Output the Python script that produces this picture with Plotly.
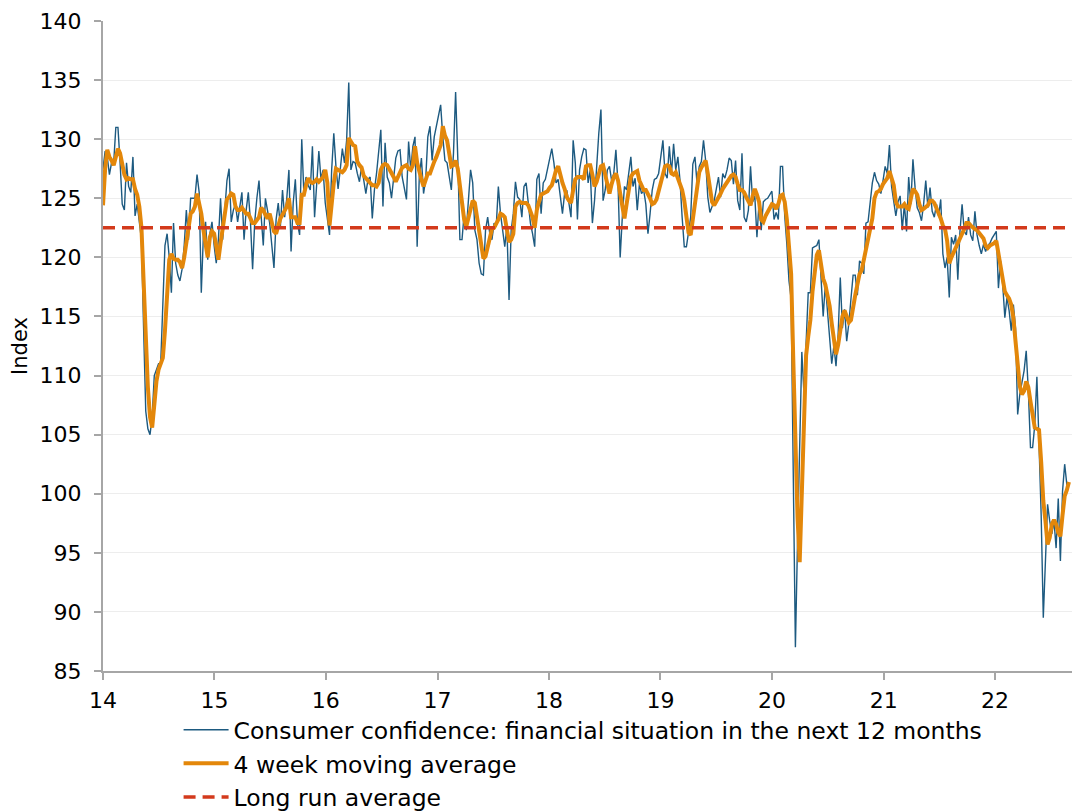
import pandas as pd
import plotly.graph_objects as go

# Weekly consumer confidence index, financial situation in the next 12 months
conf_2014 = [127.5, 129, 128.5, 127, 128, 128, 131, 131, 128, 124.5,
             124, 128, 126, 125.5, 128.5, 123.5, 124.5, 123, 121.5, 114,
             107, 105.5, 105, 106.5, 110, 110.5, 111, 111, 116, 121,
             122, 120, 117, 122.9, 119.5, 118.5, 118, 119, 121, 124,
             121.5, 125, 125, 125, 127, 125.5, 117, 122, 123, 119.8,
             122, 123]
conf_2015 = [121, 119.5, 121.5, 125, 121.5, 124, 126.5, 127.5, 123, 124,
             124.5, 123, 124.5, 125.5, 121.5, 124, 125.5, 123, 119, 123,
             125, 126.5, 123.5, 121, 125, 124, 122.9, 121, 119.1, 123.2,
             124.6, 122.6, 125.7, 123.4, 125, 127.4, 120.5, 124.6, 126.6, 122.9,
             121.9, 130, 125.4, 126.8, 126.1, 125.7, 129.4, 123.4, 126.6, 129,
             126.6, 127.4]
conf_2016 = [124.6, 123.2, 121.9, 127.4, 130.5, 127.7, 125.8, 127.4, 129.2, 128,
             129.9, 134.8, 127.4, 128.1, 128, 127.1, 126.4, 127.7, 126.4, 125.4,
             126.6, 126.8, 123.3, 125.7, 127.1, 129.1, 130.8, 124.3, 129.7, 126.8,
             126.3, 125, 126.6, 128.4, 129, 129.1, 126.8, 125.7, 124.9, 129.8,
             127.4, 129.4, 130.2, 120.9, 126.8, 128.4, 125.4, 126.6, 130.2, 131.1,
             128.2, 130.2]
conf_2017 = [131.1, 131.9, 132.9, 130.2, 128.2, 128, 126.8, 125.7, 128.8, 134,
             128.5, 121.5, 121.5, 123.7, 122.3, 125.1, 127.4, 126.3, 122.3, 121.5,
             119.5, 118.6, 118.5, 122.3, 123.4, 122, 121.5, 122.9, 122.6, 126,
             123.7, 122.3, 120.9, 122.6, 116.4, 122.3, 123.7, 126.4, 125.1, 124.9,
             123.4, 126, 126.3, 124.6, 122.9, 122, 120.9, 126.6, 127.1, 123.7,
             126.3, 126.6]
conf_2018 = [127.4, 128.4, 129.2, 128, 126.3, 126.6, 124.9, 123.7, 125.4, 125.7,
             124.6, 123.4, 129.9, 128, 123.2, 127.4, 128.5, 129.2, 129.1, 126.3,
             127.4, 122.9, 124.8, 127.9, 130.5, 132.5, 124.8, 125.7, 127.4, 127.7,
             126.5, 127.1, 129.1, 126.2, 120, 123.4, 126, 125.7, 127.1, 128.5,
             126, 126.7, 124, 126.2, 125.4, 125.7, 124.5, 122, 123.7, 125.7,
             126.6, 126.7]
conf_2019 = [127.1, 128.4, 129.9, 127.1, 126.7, 129.4, 127.1, 129.6, 127.4, 128.5,
             126.5, 123.4, 120.9, 120.9, 122, 123.4, 127.9, 128.5, 126.2, 127.7,
             128.1, 129.9, 128.2, 125.1, 123.8, 124.3, 124.8, 125.8, 126.8, 125.1,
             127.1, 126.7, 127.4, 128.4, 128.2, 126.2, 128.2, 124.8, 124, 128.8,
             123.4, 123, 124, 127.7, 124.7, 125.2, 121.7, 124.7, 122.3, 124.7,
             124.9, 125]
conf_2020 = [125.3, 125.6, 123.2, 123.8, 123.2, 127.7, 127.7, 123.5, 121.1, 118,
             116.5, 100, 87, 96, 103.5, 112, 108.5, 113.5, 117, 117,
             120.8, 120.9, 121, 121.5, 118.6, 115, 117.7, 115.3, 113, 111,
             112.5, 110.8, 113.5, 118.3, 114, 115.6, 112.9, 114.4, 116.5, 118.5,
             118.5, 116.8, 119.7, 119.5, 118.6, 122.9, 123, 124.7, 126.3, 127.2,
             126.5, 126.2]
conf_2021 = [125.4, 126.5, 127.7, 127.1, 129.5, 126, 124.5, 123.5, 124.7, 125.2,
             122.3, 124.5, 122.2, 126.8, 124.5, 128.3, 125.9, 124.2, 123.8, 123.1,
             124.5, 126.5, 124.2, 125.9, 123.9, 123.4, 124.5, 123.5, 124.9, 120.3,
             119.1, 120, 116.6, 121.7, 121.1, 121.9, 118.1, 122.2, 124.5, 122.2,
             121.9, 123.4, 121.9, 121.4, 123.9, 121.9, 121, 120.3, 121.1, 120.5,
             121, 121.2]
conf_2022 = [121.6, 121.9, 122.2, 117.4, 119.7, 117.7, 114.9, 116.6, 115.5, 113.8,
             116, 114, 106.7, 108.4, 109.4, 110.4, 112.1, 108.7, 103.9, 103.9,
             105.8, 109.9, 104.2, 98.2, 89.5, 94.8, 99.1, 97.7, 96.6, 97.7,
             95.4, 99.6, 94.3, 100.2, 102.5, 100.8, 100.8]

# 4 week moving average
ma_2014 = [124.4, 127.5, 129.1, 128.5, 128.2, 127.8, 128.5, 129.2, 128.8, 128,
           127, 126.6, 126.7, 126.6, 126.6, 125.8, 125.3, 124.3, 122.5, 118,
           113, 109, 106.5, 105.6, 107.5, 109.5, 110.5, 111, 111.5, 113.8,
           117.5, 119.8, 120.3, 119.9, 119.8, 119.8, 119.6, 119.1, 120, 121.2,
           122.3, 123.7, 123.9, 124.3, 125.4, 124.6, 123.7, 122.3, 120.9, 120,
           121.7, 122.2]
ma_2015 = [122, 120.9, 119.8, 121.2, 122.3, 123.7, 124.9, 125.1, 125.4, 125.3,
           124.3, 124, 124, 124.2, 124, 123.7, 123.7, 123.2, 122.9, 122.9,
           123.2, 123.4, 124.2, 124, 123.6, 123.3, 123.7, 122.9, 122.2, 122,
           122.6, 123.3, 123.6, 124, 124.3, 125, 123.4, 123.4, 123.4, 122.9,
           122.9, 125.3, 125.3, 126.1, 126.7, 126.4, 126.3, 126.4, 126.6, 126.4,
           126.6, 126.8]
ma_2016 = [127.4, 126.3, 122.7, 124.7, 126.3, 127.5, 127.4, 127.3, 127.2, 127.4,
           127.8, 130.1, 129.7, 129.5, 129.4, 128.1, 127.8, 127.6, 126.9, 126.7,
           126.6, 126.3, 126.1, 126.1, 126, 126.3, 127.4, 127.8, 127.9, 127.8,
           127.4, 127.2, 126.8, 126.4, 126.8, 127.1, 127.6, 127.7, 127.8, 127.5,
           127.4, 127.8, 129.4, 128, 127.1, 126.6, 126, 126.7, 127.1, 127.1,
           127.7, 128.1]
ma_2017 = [128.5, 129, 129.5, 131.1, 130.3, 129.9, 128.7, 127.7, 127.8, 128.2,
           127.5, 125.8, 124.3, 123.2, 122.6, 123.4, 124.3, 124.8, 124.6, 123.4,
           122, 120.6, 119.9, 120.1, 121, 121.9, 122.4, 122.5, 122.8, 123.2,
           123.7, 123.6, 123.4, 122.3, 121.3, 121.5, 122, 124.3, 124.6, 124.7,
           124.6, 124.6, 124.6, 124.4, 124, 123.4, 122.5, 124, 124.7, 125.3,
           125.4, 125.5]
ma_2018 = [125.6, 125.9, 126.1, 126.7, 127.4, 127.7, 126.8, 126.3, 125.8, 125.1,
           124.8, 124.6, 125.7, 126.6, 126.8, 126.8, 126.8, 126.6, 127.7, 127.8,
           127.8, 127, 126, 126.4, 127, 127.7, 127.8, 127.1, 126.1, 125.4,
           126.2, 126.8, 127.1, 126.5, 125.4, 124.3, 123.3, 124.5, 125.8, 126.8,
           127.1, 127.2, 127.3, 126.5, 126, 125.7, 125.7, 125.4, 125, 124.5,
           124.6, 124.9]
ma_2019 = [125.6, 126.1, 126.8, 127.7, 127.8, 127.7, 127.1, 127, 127.2, 126.7,
           126.2, 125.7, 124.8, 123.4, 122.1, 121.9, 123.3, 124.7, 126.4, 127.2,
           127.6, 128, 128.2, 127.1, 126, 124.7, 124.4, 124.7, 125.1, 125.4,
           125.8, 126.1, 126.4, 126.7, 126.9, 127, 126.8, 126.2, 125.7, 125.7,
           125.5, 125.1, 124.8, 124.4, 125.2, 125.8, 125.3, 124.7, 123.2, 123,
           123.5, 123.9]
ma_2020 = [124.2, 124.5, 124.4, 124.1, 124.5, 125.2, 125.3, 124.7, 123.2, 121.1,
           118.6, 111.4, 104.1, 98, 94.2, 100.5, 107.1, 111.7, 113.3, 114.7,
           117.1, 118.8, 120.2, 120.6, 119.2, 118.2, 117.7, 116.7, 115.9, 114.4,
           113.2, 111.8, 112.6, 113.6, 115, 115.5, 115, 114.5, 114.7, 115.9,
           116.8, 117.7, 118.6, 118.9, 119.8, 120.9, 121.5, 122.3, 123.3, 125,
           125.5, 125.6]
ma_2021 = [125.8, 126.2, 126.4, 126.7, 127.3, 126.8, 126.1, 124.7, 124.3, 124.3,
           124.3, 124.5, 124.2, 124.1, 124.9, 125.8, 125.6, 125.3, 124.5, 124,
           124.1, 124.3, 124.4, 124.8, 124.8, 124.6, 124.2, 123.9, 123.3, 122.7,
           122.4, 121.4, 119.5, 120, 120.4, 120.7, 121.2, 121.4, 121.9, 122.4,
           122.9, 122.9, 122.7, 122.5, 122.4, 122.3, 122.1, 121.9, 121.6, 121,
           120.8, 121]
ma_2022 = [121.1, 121.2, 121.4, 120.2, 119.1, 118.3, 117.1, 116.8, 116.5, 116,
           114.9, 112.9, 110.9, 109.1, 108.4, 108.7, 109.5, 109, 107.8, 106.4,
           105.6, 105.5, 105.4, 102.7, 99.4, 97.7, 95.7, 96.3, 97.4, 97.8,
           97.4, 96.7, 96.4, 98.2, 99.8, 100.3, 101]

long_run_average = 122.5

confidence = (conf_2014 + conf_2015 + conf_2016 + conf_2017 + conf_2018 +
              conf_2019 + conf_2020 + conf_2021 + conf_2022)
moving_avg = (ma_2014 + ma_2015 + ma_2016 + ma_2017 + ma_2018 +
              ma_2019 + ma_2020 + ma_2021 + ma_2022)

conf_dates = pd.date_range("2014-01-01", periods=len(confidence), freq="7D")
ma_dates = pd.date_range("2014-01-01", periods=len(moving_avg), freq="7D")
x_start = pd.Timestamp("2014-01-01")
x_end = conf_dates[-1] + pd.Timedelta(days=10)

FONT = "DejaVu Sans, Verdana, sans-serif"
AXIS_GREY = "#A6A6A6"

fig = go.Figure()
fig.add_trace(go.Scatter(
    x=conf_dates, y=confidence, mode="lines",
    name="Consumer confidence: financial situation in the next 12 months",
    line=dict(color="#1D5A80", width=1.4), legendgroup="a"))
fig.add_trace(go.Scatter(
    x=ma_dates, y=moving_avg, mode="lines",
    name="4 week moving average",
    line=dict(color="#E3870A", width=4), legendgroup="b"))
fig.add_trace(go.Scatter(
    x=[x_start, x_end], y=[long_run_average, long_run_average], mode="lines",
    name="Long run average",
    line=dict(color="#D33A1C", width=3.5, dash="12px,7px"), legendgroup="c"))

fig.update_layout(
    width=1072, height=812,
    margin=dict(l=103, r=0, t=21, b=141, autoexpand=False),
    paper_bgcolor="white", plot_bgcolor="white",
    font=dict(family=FONT, size=22, color="black"),
    showlegend=True,
    legend=dict(
        x=0.078, y=-0.057, xanchor="left", yanchor="top",
        orientation="v", font=dict(family=FONT, size=23.5, color="black"),
        bgcolor="rgba(0,0,0,0)", tracegroupgap=0, itemwidth=45,
    ),
    xaxis=dict(
        type="date", range=[x_start, x_end],
        tickformat="%y", dtick="M12", tick0="2014-01-01",
        ticks="outside", ticklen=7, tickcolor=AXIS_GREY, tickwidth=2,
        showline=True, linecolor=AXIS_GREY, linewidth=2,
        showgrid=False, zeroline=False, ticklabelstandoff=2,
        tickfont=dict(family=FONT, size=22, color="black"),
    ),
    yaxis=dict(
        range=[85, 140], dtick=5, tick0=85,
        ticks="outside", ticklen=7, tickcolor=AXIS_GREY, tickwidth=2,
        showline=True, linecolor=AXIS_GREY, linewidth=2,
        showgrid=True, gridcolor="#EDEDED", gridwidth=1, zeroline=False,
        ticklabelstandoff=8,
        tickfont=dict(family=FONT, size=22, color="black"),
        title=dict(text="Index", font=dict(family=FONT, size=21, color="black"), standoff=6),
    ),
)

fig.write_html(
    "out.html",
    config={"displayModeBar": False},
    post_script="document.body.style.margin='0';document.body.style.overflow='hidden';",
)
